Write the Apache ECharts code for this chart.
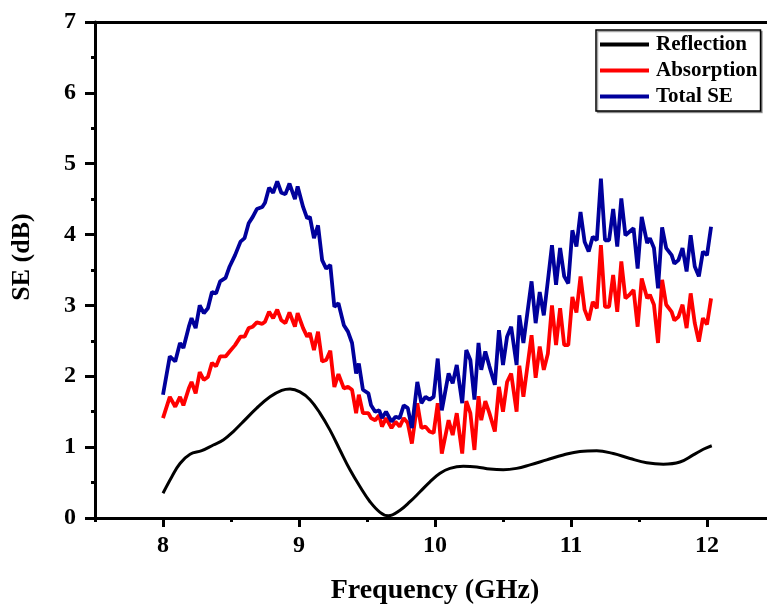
<!DOCTYPE html>
<html>
<head>
<meta charset="utf-8">
<script src="https://cdn.jsdelivr.net/npm/echarts@6/dist/echarts.min.js"></script>
<style>html,body{margin:0;padding:0;background:#fff;}#c{width:767px;height:604px;}</style>
</head>
<body>
<div id="c"></div>
<script>
// Frequency grid (GHz) for Absorption and Total SE
const freq = [8.00,8.05,8.09,8.125,8.15,8.19,8.21,8.24,8.27,8.30,8.33,8.36,8.39,8.42,8.46,8.49,8.53,8.57,8.60,8.63,8.66,8.69,8.73,8.75,8.78,8.81,8.84,8.87,8.90,8.93,8.97,8.99,9.03,9.06,9.08,9.11,9.14,9.17,9.20,9.23,9.26,9.29,9.33,9.36,9.39,9.42,9.44,9.47,9.51,9.53,9.56,9.59,9.61,9.64,9.68,9.71,9.74,9.77,9.80,9.83,9.87,9.90,9.93,9.96,9.99,10.02,10.05,10.10,10.13,10.16,10.20,10.23,10.26,10.29,10.32,10.34,10.37,10.40,10.44,10.47,10.50,10.53,10.56,10.60,10.62,10.65,10.71,10.74,10.77,10.80,10.83,10.86,10.89,10.92,10.95,10.98,11.01,11.04,11.07,11.10,11.13,11.16,11.19,11.22,11.25,11.28,11.31,11.34,11.37,11.40,11.43,11.46,11.49,11.52,11.56,11.58,11.61,11.64,11.67,11.70,11.74,11.76,11.79,11.82,11.85,11.88,11.91,11.94,11.97,12.00,12.03];
const totalSE = [1.74,2.28,2.21,2.47,2.40,2.70,2.82,2.68,3.00,2.89,2.96,3.19,3.17,3.34,3.39,3.55,3.71,3.90,3.95,4.16,4.25,4.36,4.39,4.45,4.66,4.59,4.75,4.59,4.57,4.72,4.50,4.68,4.39,4.23,4.25,3.95,4.13,3.64,3.52,3.57,2.98,3.03,2.72,2.63,2.47,2.04,2.18,1.81,1.76,1.59,1.50,1.52,1.41,1.50,1.36,1.43,1.41,1.59,1.55,1.27,1.92,1.62,1.71,1.67,1.71,2.25,1.52,2.04,1.90,2.16,1.62,2.37,2.23,1.67,2.47,2.09,2.35,2.14,1.88,2.65,2.16,2.56,2.70,2.16,2.86,2.47,3.34,2.75,3.19,2.86,3.35,3.85,3.29,3.81,3.41,3.31,4.06,3.83,4.32,3.90,3.76,3.97,3.92,4.79,3.92,3.92,4.36,3.83,4.51,3.99,4.04,4.09,3.52,4.25,3.88,3.95,3.81,3.24,4.10,3.81,3.71,3.59,3.64,3.81,3.48,3.99,3.55,3.41,3.76,3.71,4.11];
const absorption = [1.41,1.71,1.57,1.71,1.59,1.83,1.92,1.76,2.06,1.95,1.99,2.19,2.14,2.28,2.28,2.35,2.44,2.56,2.56,2.68,2.70,2.76,2.74,2.77,2.91,2.82,2.94,2.79,2.75,2.90,2.70,2.89,2.68,2.56,2.61,2.37,2.63,2.21,2.23,2.36,1.85,2.03,1.83,1.85,1.81,1.48,1.74,1.48,1.48,1.41,1.38,1.45,1.29,1.41,1.27,1.36,1.29,1.41,1.34,1.05,1.62,1.27,1.29,1.22,1.20,1.62,0.91,1.38,1.17,1.48,0.91,1.65,1.48,0.96,1.72,1.38,1.65,1.48,1.22,1.85,1.50,1.92,2.04,1.50,2.15,1.71,2.58,1.98,2.42,2.09,2.32,3.00,2.44,2.96,2.44,2.44,3.12,2.90,3.41,2.94,2.79,3.05,2.96,3.85,2.98,2.98,3.43,2.91,3.62,3.10,3.15,3.22,2.70,3.38,3.10,3.15,3.01,2.47,3.36,3.01,2.91,2.79,2.84,3.01,2.68,3.17,2.75,2.49,2.82,2.73,3.10];
// Reflection (smooth curve)
const reflFreq = [8.00,8.064,8.125,8.199,8.285,8.37,8.443,8.517,8.59,8.689,8.787,8.873,8.934,9.007,9.081,9.154,9.228,9.301,9.375,9.449,9.522,9.596,9.657,9.743,9.816,9.89,9.963,10.037,10.11,10.208,10.307,10.404,10.502,10.60,10.699,10.821,10.943,11.066,11.189,11.311,11.434,11.557,11.679,11.801,11.899,11.973,12.035];
const reflection = [0.35,0.58,0.77,0.90,0.95,1.03,1.10,1.22,1.36,1.55,1.71,1.80,1.82,1.78,1.67,1.48,1.24,0.96,0.68,0.44,0.23,0.08,0.03,0.11,0.23,0.37,0.51,0.63,0.70,0.73,0.72,0.69,0.68,0.70,0.75,0.82,0.89,0.94,0.95,0.91,0.84,0.78,0.76,0.79,0.89,0.97,1.02];
const seriesNames = ['Reflection','Absorption','Total SE'];
const xTickValues = [8, 9, 10, 11, 12];
const xMinorTickValues = [7.5, 8, 8.5, 9, 9.5, 10, 10.5, 11, 11.5, 12, 12.5];
const yTickLabels = ['0','1','2','3','4','5','6','7'];

const pair = (xs, ys) => xs.map((x, i) => [x, ys[i]]);
const FONT = '"Liberation Serif","Times New Roman",serif';
const BLUE = '#00009c', RED = '#ff0000', BLACK = '#000000';
const LEGEND_ICON = 'path://M0,0 L49,0 L49,4 L0,4 Z';
const chart = echarts.init(document.getElementById('c'), null, {renderer: 'canvas'});
const axisLine = {show: true, lineStyle: {color: '#000', width: 3}};
chart.setOption({
  animation: false,
  backgroundColor: '#fff',
  grid: {left: 95, top: 22, width: 680, bottom: 86, containLabel: false, outerBoundsMode: 'none'},
  legend: {
    data: seriesNames.map(n => ({name: n, icon: LEGEND_ICON})),
    orient: 'vertical',
    left: 596, top: 30,
    padding: [4, 3, 4, 4],
    itemGap: 5,
    itemWidth: 49,
    itemHeight: 4,
    borderColor: '#000',
    borderWidth: 1.5,
    backgroundColor: '#fff',
    shadowColor: 'rgba(0,0,0,0.35)', shadowOffsetX: 1.5, shadowOffsetY: 1.5, shadowBlur: 0,
    textStyle: {fontFamily: FONT, fontWeight: 'bold', fontSize: 21, lineHeight: 21, color: '#000', padding: [0,0,0,2]}
  },
  xAxis: [{
    type: 'value', min: 7.5, max: 12.5, interval: 0.5,
    name: 'Frequency (GHz)', nameLocation: 'middle', nameGap: 59,
    nameTextStyle: {fontFamily: FONT, fontWeight: 'bold', fontSize: 28, color: '#000'},
    axisLine: axisLine,
    axisTick: {show: true, inside: false, length: 9, customValues: xTickValues, lineStyle: {color: '#000', width: 3}},
    axisLabel: {fontFamily: FONT, fontWeight: 'bold', fontSize: 24, color: '#000', margin: 16, customValues: xTickValues},
    splitLine: {show: false}
  }, {
    type: 'value', position: 'bottom', min: 7.5, max: 12.5, interval: 0.5,
    axisLine: {show: false},
    axisTick: {show: true, inside: false, length: 4, customValues: xMinorTickValues, lineStyle: {color: '#000', width: 3}},
    axisLabel: {show: false}, splitLine: {show: false}
  }, {
    type: 'value', position: 'top', min: 7.5, max: 12.5,
    axisLine: axisLine, axisTick: {show: false}, axisLabel: {show: false}, splitLine: {show: false}
  }],
  yAxis: [{
    type: 'value', min: 0, max: 7, interval: 1,
    name: 'SE (dB)', nameLocation: 'middle', nameGap: 60,
    nameTextStyle: {fontFamily: FONT, fontWeight: 'bold', fontSize: 26, color: '#000', padding: [0, 0, 0, 26]},
    axisLine: axisLine,
    axisTick: {show: true, inside: false, length: 10, lineStyle: {color: '#000', width: 3}},
    minorTick: {show: true, splitNumber: 2, length: 4, lineStyle: {color: '#000', width: 3}},
    axisLabel: {fontFamily: FONT, fontWeight: 'bold', fontSize: 24, color: '#000', margin: 19,
      formatter: v => { const s = String(v); return yTickLabels.includes(s) ? s : ''; }},
    splitLine: {show: false}
  }, {
    type: 'value', position: 'right', min: 0, max: 7,
    axisLine: axisLine, axisTick: {show: false}, axisLabel: {show: false}, splitLine: {show: false}
  }],
  series: [
    {name: seriesNames[0], type: 'line', data: pair(reflFreq, reflection), symbol: 'none', smooth: 0.4,
      lineStyle: {color: BLACK, width: 3}, itemStyle: {color: BLACK}, z: 3},
    {name: seriesNames[1], type: 'line', data: pair(freq, absorption), symbol: 'none',
      lineStyle: {color: RED, width: 3.8}, itemStyle: {color: RED}, z: 2},
    {name: seriesNames[2], type: 'line', data: pair(freq, totalSE), symbol: 'none',
      lineStyle: {color: BLUE, width: 3.8}, itemStyle: {color: BLUE}, z: 2}
  ]
});
</script>
</body>
</html>
